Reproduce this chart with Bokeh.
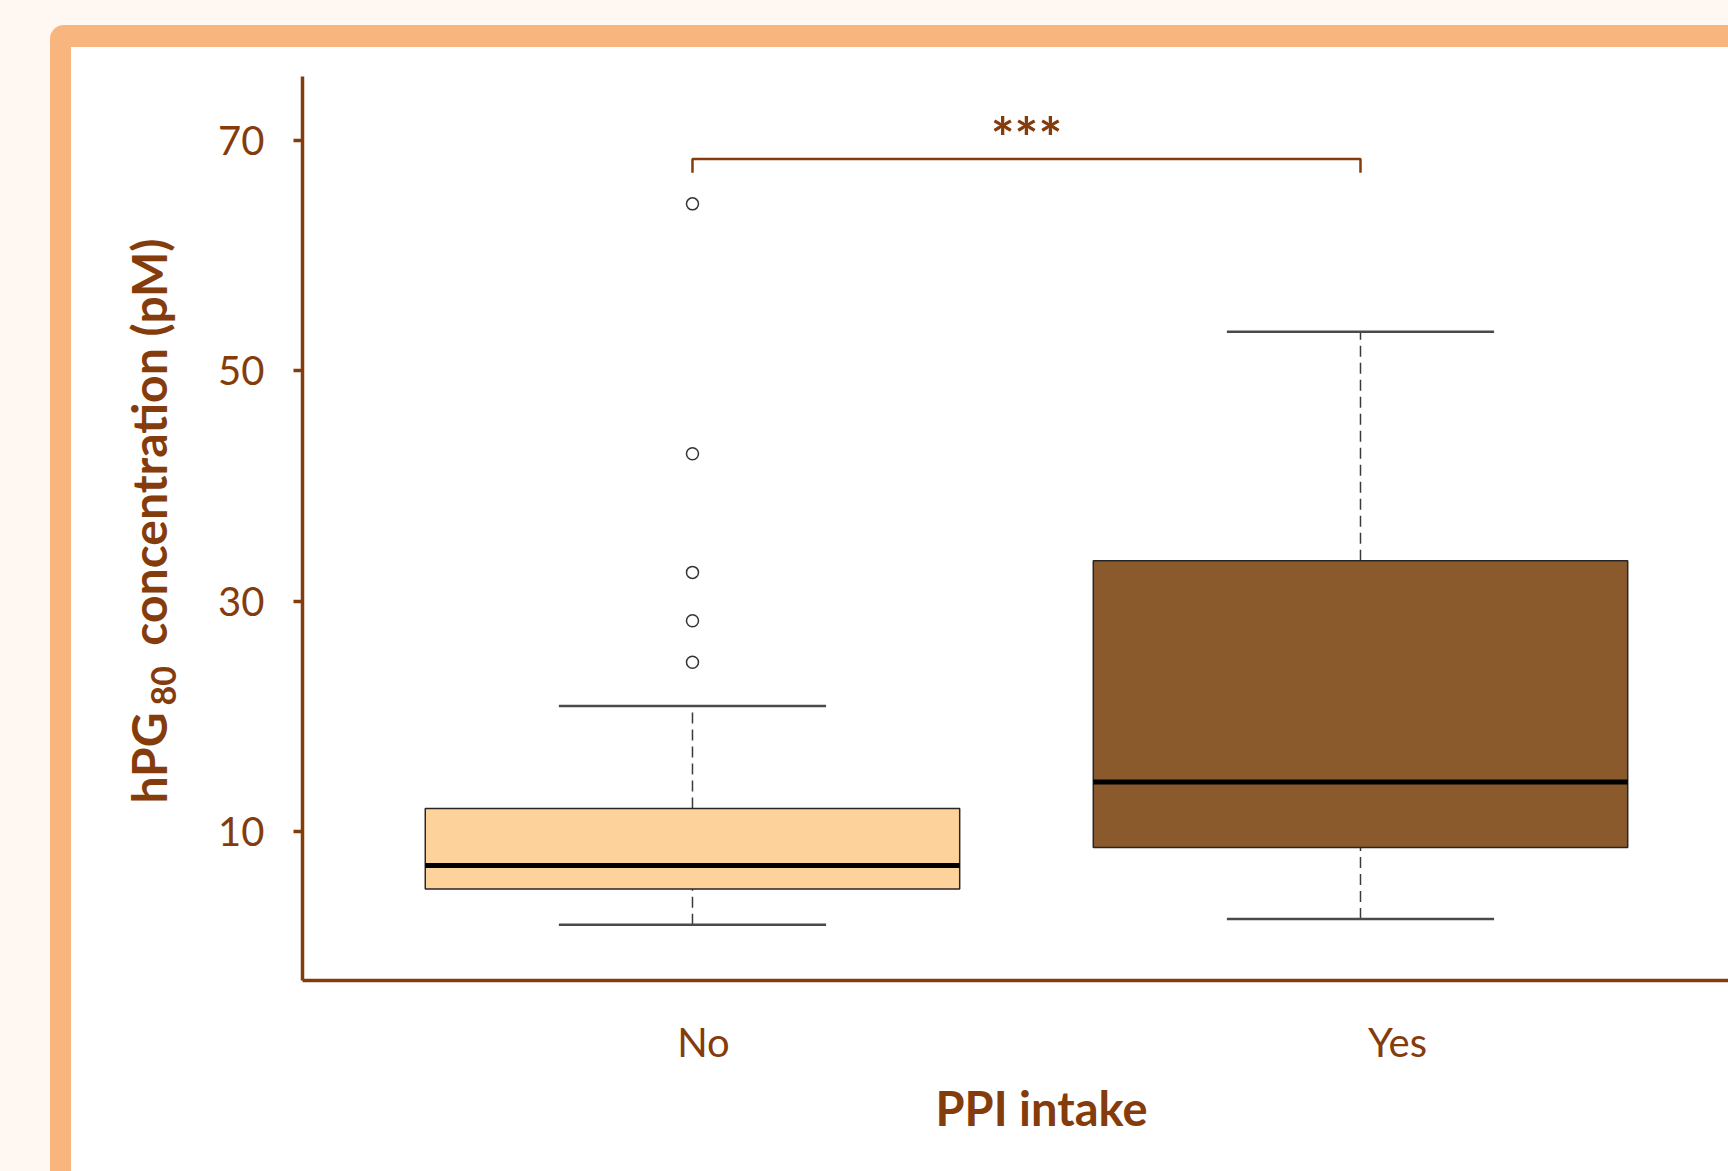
import math

from bokeh.plotting import figure
from bokeh.layouts import column
from bokeh.models import Range1d, FixedTicker, Label
from bokeh.embed import file_html
from bokeh.resources import INLINE
from bokeh.core.properties import value

# ---------------------------------------------------------------- data
groups = ["No", "Yes"]
group_x = [1, 2]
whisker_low = [1.9, 2.4]
quartile_1 = [5.0, 8.6]
medians = [7.05, 14.3]
quartile_3 = [12.0, 33.5]
whisker_high = [20.9, 53.4]
outlier_x = [1, 1, 1, 1, 1]
outlier_y = [64.5, 42.8, 32.5, 28.3, 24.7]
y_ticks = [10, 30, 50, 70]
significance = "***"
bracket_level = 68.4
bracket_drop = 1.2

# ---------------------------------------------------------------- style
BROWN = "#843C0C"
CREAM = "#FFF8F2"
FRAME = "#F8B57E"
BOX_FILL = ["#FED39B", "#8A5A2D"]
FONT = "Lato"
BOX_W = 0.8
CAP_W = 0.4
LABEL_SHIFT = [11, 37]

# white slide panel holding the chart
p = figure(
    width=1657, height=1124,
    output_backend="svg", toolbar_location=None,
    x_range=Range1d(0.4162, 2.5509), y_range=Range1d(-2.94, 75.56),
    min_border_left=231, min_border_right=0,
    min_border_top=29, min_border_bottom=191,
)
p.border_fill_color = "white"
p.background_fill_color = "white"
p.outline_line_color = None
p.grid.visible = False
p.margin = (22, 0, 0, 21)
p.styles = {"background-color": "white"}

# axes
p.xaxis.ticker = FixedTicker(ticks=[])
p.xaxis.major_tick_line_color = None
p.xaxis.minor_tick_line_color = None
p.xaxis.major_label_text_font_size = "0px"
p.xaxis.axis_line_color = BROWN
p.xaxis.axis_line_width = 3.5

p.yaxis.ticker = FixedTicker(ticks=y_ticks)
p.yaxis.axis_line_color = BROWN
p.yaxis.axis_line_width = 3.5
p.yaxis.major_tick_line_color = BROWN
p.yaxis.major_tick_line_width = 3.5
p.yaxis.major_tick_out = 9
p.yaxis.major_tick_in = 0
p.yaxis.minor_tick_line_color = None
p.yaxis.major_label_standoff = 29
p.yaxis.major_label_text_font = FONT
p.yaxis.major_label_text_font_size = "40px"
p.yaxis.major_label_text_color = BROWN

# whiskers (dashed stems + solid caps)
p.segment(x0=group_x, x1=group_x, y0=quartile_3, y1=whisker_high,
          line_color="#3a3a3a", line_width=1.5, line_dash="11 6")
p.segment(x0=group_x, x1=group_x, y0=whisker_low, y1=quartile_1,
          line_color="#3a3a3a", line_width=1.5, line_dash="11 6")
cap_left = [x - CAP_W / 2 for x in group_x]
cap_right = [x + CAP_W / 2 for x in group_x]
p.segment(x0=cap_left, x1=cap_right, y0=whisker_high, y1=whisker_high,
          line_color="#4a4a4a", line_width=2.5)
p.segment(x0=cap_left, x1=cap_right, y0=whisker_low, y1=whisker_low,
          line_color="#4a4a4a", line_width=2.5)

# boxes and medians
p.vbar(x=group_x, width=BOX_W, bottom=quartile_1, top=quartile_3,
       fill_color=BOX_FILL, line_color="#262626", line_width=1.5)
p.segment(x0=[x - BOX_W / 2 for x in group_x], x1=[x + BOX_W / 2 for x in group_x],
          y0=medians, y1=medians, line_color="black", line_width=5)

# outliers
p.scatter(x=outlier_x, y=outlier_y, marker="circle", size=12,
          fill_color="white", line_color="#333333", line_width=1.5)

# significance bracket
g1, g2 = group_x
p.line(x=[g1, g1, g2, g2],
       y=[bracket_level - bracket_drop, bracket_level, bracket_level, bracket_level - bracket_drop],
       line_color=BROWN, line_width=2.5)
p.text(x=[(g1 + g2) / 2], y=[bracket_level], text=[significance],
       text_align="center", text_baseline="alphabetic", y_offset=-22,
       text_font=value(FONT), text_font_style="bold", text_font_size="56px",
       text_color=BROWN)

# category labels under the x axis
for gx, name, shift in zip(group_x, groups, LABEL_SHIFT):
    p.add_layout(Label(x=gx, y=994, x_units="data", y_units="canvas", x_offset=shift,
                       text=name, text_align="center", text_baseline="alphabetic",
                       text_font=FONT, text_font_size="40px", text_color=BROWN), "below")

# axis titles
p.add_layout(Label(x=970, y=1060, x_units="canvas", y_units="canvas",
                   text="PPI intake", text_align="center", text_baseline="alphabetic",
                   text_font=FONT, text_font_style="bold", text_font_size="47px",
                   text_color=BROWN), "below")

y_title_parts = [("hPG", 77, 756, "48px", "left"),
                 ("80", 92, 658, "34px", "left"),
                 ("concentration (pM)", 77, 191, "48px", "right")]
for txt, tx, ty, size, align in y_title_parts:
    p.add_layout(Label(x=tx, y=ty, x_units="canvas", y_units="canvas", angle=math.pi / 2,
                       text=txt, text_align=align, text_baseline="alphabetic",
                       text_font=FONT, text_font_style="bold", text_font_size=size,
                       text_color=BROWN), "left")

# orange rounded slide border on a cream page
slide = column(p, margin=(25, 0, 0, 50),
               styles={"background-color": FRAME, "border-top-left-radius": "14px"})
page = column(slide, styles={"background-color": CREAM})

open("out.html", "w").write(file_html(page, INLINE))
